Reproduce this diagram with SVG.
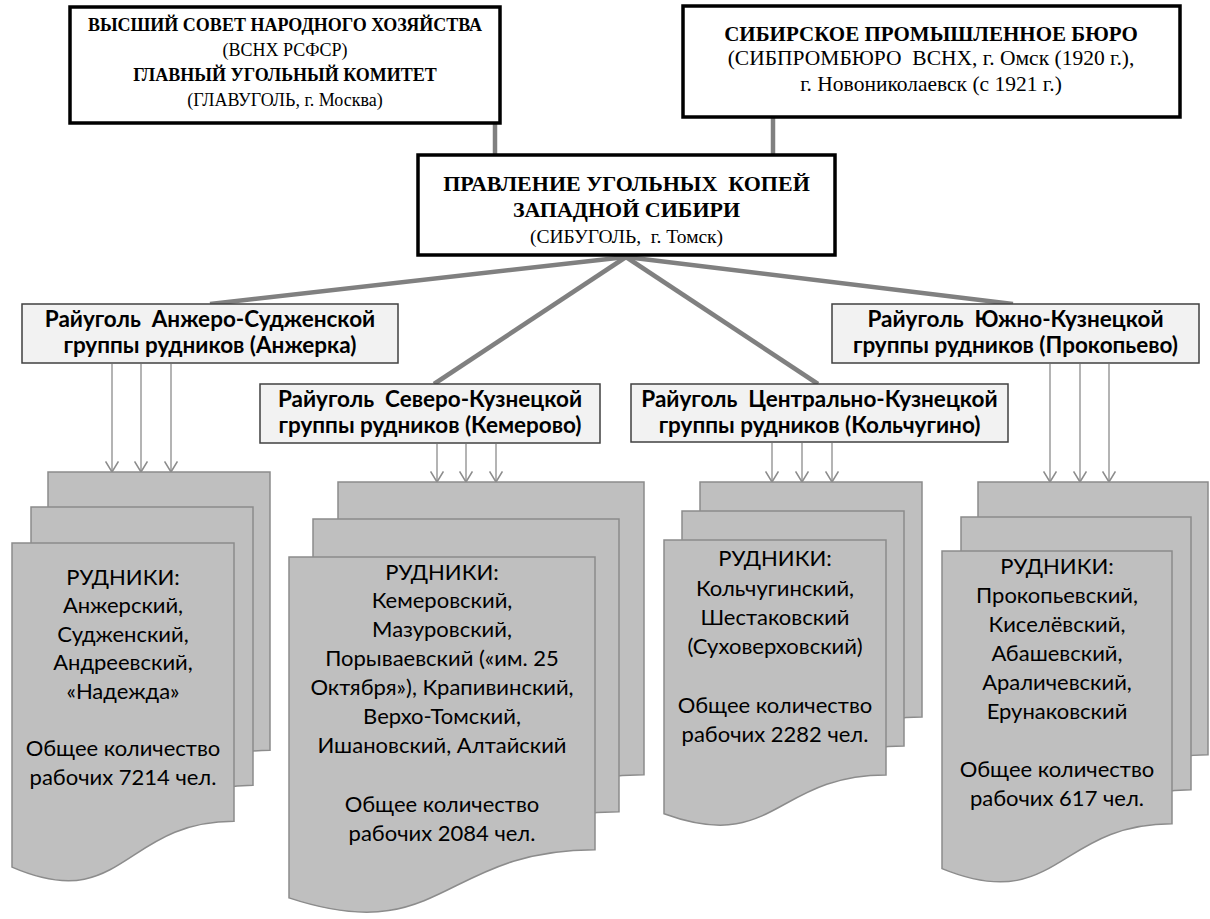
<svg xmlns="http://www.w3.org/2000/svg" width="1210" height="919" viewBox="0 0 1210 919">
<style>
.top{fill:#fff;stroke:#000;stroke-width:3.5}
.ray{fill:#f2f2f2;stroke:#404040;stroke-width:1.5}
.doc{fill:#bfbfbf;stroke:#8c8c8c;stroke-width:1.5}
.thick{stroke:#808080;stroke-width:4.5;fill:none;stroke-linecap:butt}
.thin{stroke:#8c8c8c;stroke-width:1.3;fill:none;marker-end:url(#arr)}
.serif{font-family:"Liberation Serif","Times New Roman",serif;fill:#000;text-anchor:middle;white-space:pre}
.b{font-weight:bold}
.rt{font-family:Lato,"Liberation Sans",sans-serif;font-weight:bold;font-size:22.5px;fill:#000;text-anchor:middle;white-space:pre}
.dt{font-family:Lato,"Liberation Sans",sans-serif;font-size:22px;fill:#000;text-anchor:middle}
</style>
<defs>
<marker id="arr" markerUnits="userSpaceOnUse" markerWidth="14" markerHeight="14" refX="10" refY="6" orient="auto" viewBox="0 0 12 12">
<path d="M1,0.5 L10,6 L1,11.5" fill="none" stroke="#8c8c8c" stroke-width="1.3"/>
</marker>
</defs>

<g id="connectors">
<line class="thick" x1="495" y1="123" x2="495" y2="156"/>
<line class="thick" x1="773" y1="117" x2="773" y2="156"/>
<line class="thick" x1="626" y1="257" x2="210" y2="304"/>
<line class="thick" x1="626" y1="257" x2="434" y2="384"/>
<line class="thick" x1="626" y1="257" x2="818" y2="384"/>
<line class="thick" x1="626" y1="257" x2="1013" y2="304"/>
<line class="thin" x1="112" y1="364" x2="112" y2="472"/>
<line class="thin" x1="141" y1="364" x2="141" y2="472"/>
<line class="thin" x1="171" y1="364" x2="171" y2="472"/>
<line class="thin" x1="437" y1="444" x2="437" y2="482"/>
<line class="thin" x1="466" y1="444" x2="466" y2="482"/>
<line class="thin" x1="496" y1="444" x2="496" y2="482"/>
<line class="thin" x1="772" y1="443" x2="772" y2="482"/>
<line class="thin" x1="802" y1="443" x2="802" y2="482"/>
<line class="thin" x1="832" y1="443" x2="832" y2="482"/>
<line class="thin" x1="1050" y1="364" x2="1050" y2="482"/>
<line class="thin" x1="1080" y1="364" x2="1080" y2="482"/>
<line class="thin" x1="1109" y1="364" x2="1109" y2="482"/>
</g>

<g id="vsnh">
<rect class="top" x="70" y="7" width="430" height="116"/>
<text class="serif b" x="285" y="31" font-size="18">ВЫСШИЙ СОВЕТ НАРОДНОГО ХОЗЯЙСТВА</text>
<text class="serif" x="285" y="56" font-size="18">(ВСНХ РСФСР)</text>
<text class="serif b" x="285" y="81" font-size="18">ГЛАВНЫЙ УГОЛЬНЫЙ КОМИТЕТ</text>
<text class="serif" x="285" y="106" font-size="18">(ГЛАВУГОЛЬ, г. Москва)</text>
</g>

<g id="sibprombyuro">
<rect class="top" x="683" y="6" width="497" height="111"/>
<text class="serif b" x="931" y="41" font-size="21">СИБИРСКОЕ ПРОМЫШЛЕННОЕ БЮРО</text>
<text class="serif" x="931" y="65" font-size="21.5">(СИБПРОМБЮРО  ВСНХ, г. Омск (1920 г.),</text>
<text class="serif" x="931" y="91" font-size="21.5">г. Новониколаевск (с 1921 г.)</text>
</g>

<g id="sibugol">
<rect class="top" x="418" y="155" width="417" height="100"/>
<text class="serif b" x="626.5" y="191" font-size="22">ПРАВЛЕНИЕ УГОЛЬНЫХ  КОПЕЙ</text>
<text class="serif b" x="626.5" y="217" font-size="22">ЗАПАДНОЙ СИБИРИ</text>
<text class="serif" x="626.5" y="243" font-size="19.5">(СИБУГОЛЬ,  г. Томск)</text>
</g>

<g id="ray-anzherka">
<rect class="ray" x="22" y="304" width="376" height="59"/>
<text class="rt" x="210" y="327">Райуголь  Анжеро-Судженской</text>
<text class="rt" x="210" y="353">группы рудников (Анжерка)</text>
</g>

<g id="ray-kemerovo">
<rect class="ray" x="260" y="384" width="340" height="59"/>
<text class="rt" x="430" y="407">Райуголь  Северо-Кузнецкой</text>
<text class="rt" x="430" y="433">группы рудников (Кемерово)</text>
</g>

<g id="ray-kolchugino">
<rect class="ray" x="631" y="384" width="377" height="58"/>
<text class="rt" x="819.5" y="407">Райуголь  Центрально-Кузнецкой</text>
<text class="rt" x="819.5" y="433">группы рудников (Кольчугино)</text>
</g>

<g id="ray-prokopyevo">
<rect class="ray" x="832" y="304" width="367" height="59"/>
<text class="rt" x="1015.5" y="327">Райуголь  Южно-Кузнецкой</text>
<text class="rt" x="1015.5" y="353">группы рудников (Прокопьево)</text>
</g>

<g id="mines-anzherka">
<path class="doc" d="M48,472 H270 V750.3 C159,750.3 159,844 48,796.1 Z"/>
<path class="doc" d="M31,507 H253 V785.3 C142,785.3 142,879 31,831.1 Z"/>
<path class="doc" d="M12,543 H234 V821.3 C123,821.3 123,915 12,867.1 Z"/>
<text class="dt" x="123" y="585">РУДНИКИ:</text>
<text class="dt" x="123" y="613">Анжерский,</text>
<text class="dt" x="123" y="642">Судженский,</text>
<text class="dt" x="123" y="670">Андреевский,</text>
<text class="dt" x="123" y="699">«Надежда»</text>
<text class="dt" x="123" y="756">Общее количество</text>
<text class="dt" x="123" y="785">рабочих 7214 чел.</text>
</g>

<g id="mines-kemerovo">
<path class="doc" d="M338,482 H644 V774.7 C491,774.7 491,873.3 338,822.9 Z"/>
<path class="doc" d="M313,519 H619 V811.7 C466,811.7 466,910.3 313,859.9 Z"/>
<path class="doc" d="M289,557 H595 V849.7 C442,849.7 442,948.3 289,897.9 Z"/>
<text class="dt" x="442" y="580">РУДНИКИ:</text>
<text class="dt" x="442" y="608">Кемеровский,</text>
<text class="dt" x="442" y="637">Мазуровский,</text>
<text class="dt" x="442" y="666">Порываевский («им. 25</text>
<text class="dt" x="442" y="695">Октября»), Крапивинский,</text>
<text class="dt" x="442" y="724">Верхо-Томский,</text>
<text class="dt" x="442" y="753">Ишановский, Алтайский</text>
<text class="dt" x="442" y="812">Общее количество</text>
<text class="dt" x="442" y="841">рабочих 2084 чел.</text>
</g>

<g id="mines-kolchugino">
<path class="doc" d="M700,482 H922 V717 C811,717 811,796.1 700,755.7 Z"/>
<path class="doc" d="M682,511 H904 V746 C793,746 793,825.1 682,784.7 Z"/>
<path class="doc" d="M664,540 H886 V775 C775,775 775,854.1 664,813.7 Z"/>
<text class="dt" x="775" y="566">РУДНИКИ:</text>
<text class="dt" x="775" y="596">Кольчугинский,</text>
<text class="dt" x="775" y="625">Шестаковский</text>
<text class="dt" x="775" y="654">(Суховерховский)</text>
<text class="dt" x="775" y="713">Общее количество</text>
<text class="dt" x="775" y="742">рабочих 2282 чел.</text>
</g>

<g id="mines-prokopyevo">
<path class="doc" d="M978,482 H1208 V754.7 C1093,754.7 1093,846.5 978,799.6 Z"/>
<path class="doc" d="M961,517 H1191 V789.7 C1076,789.7 1076,881.5 961,834.6 Z"/>
<path class="doc" d="M942,551 H1172 V823.7 C1057,823.7 1057,915.5 942,868.6 Z"/>
<text class="dt" x="1057" y="574">РУДНИКИ:</text>
<text class="dt" x="1057" y="603">Прокопьевский,</text>
<text class="dt" x="1057" y="632">Киселёвский,</text>
<text class="dt" x="1057" y="661">Абашевский,</text>
<text class="dt" x="1057" y="690">Араличевский,</text>
<text class="dt" x="1057" y="719">Ерунаковский</text>
<text class="dt" x="1057" y="777">Общее количество</text>
<text class="dt" x="1057" y="806">рабочих 617 чел.</text>
</g>
</svg>
